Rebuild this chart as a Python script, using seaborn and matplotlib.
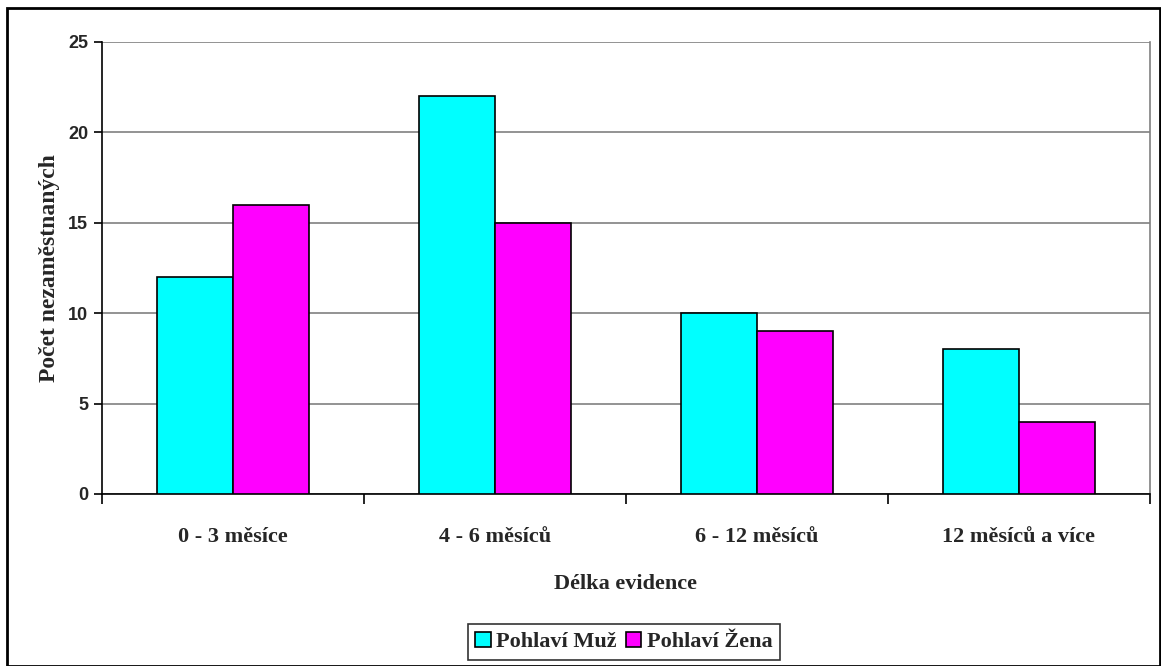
import matplotlib
matplotlib.use("Agg")
import matplotlib.pyplot as plt
import seaborn as sns
import pandas as pd
from matplotlib.patches import Rectangle

categories = ["0 - 3 měsíce", "4 - 6 měsíců", "6 - 12 měsíců", "12 měsíců a více"]
series_names = ["Pohlaví Muž", "Pohlaví Žena"]
muz = [12, 22, 10, 8]
zena = [16, 15, 9, 4]
y_ticks = [0, 5, 10, 15, 20, 25]

df = pd.DataFrame({
    "cat": categories * 2,
    "val": muz + zena,
    "ser": [series_names[0]] * 4 + [series_names[1]] * 4,
})

sns.set_style("white")
serif = ["Liberation Serif", "DejaVu Serif"]
sans = ["Liberation Sans", "DejaVu Sans"]

fig = plt.figure(figsize=(11.61, 6.66), dpi=100)
ax = fig.add_axes([102/1161, 1-494/666, (1150-102)/1161, (494-42)/666])

sns.barplot(data=df, x="cat", y="val", hue="ser", order=categories,
            hue_order=series_names, palette=["#00FFFF", "#FF00FF"],
            edgecolor="black", linewidth=1.2, width=0.577, gap=0,
            saturation=1, ax=ax, zorder=3)

ax.set_ylim(0, 25)
ax.set_xlim(-0.5, 3.5)
ax.set_yticks(y_ticks)
ax.set_yticklabels([str(t) for t in y_ticks], fontfamily=sans, fontweight="bold", fontsize=13)
ax.yaxis.grid(True, color="#808080", linewidth=1.2, zorder=0)
ax.set_axisbelow(True)
ax.tick_params(axis="y", direction="out", length=6, width=1.2, color="black", left=True, pad=4)

ax.set_xticks(range(len(categories)))
ax.set_xticklabels(categories, fontfamily=serif, fontweight="bold", fontsize=16)
ax.tick_params(axis="x", which="major", length=0, pad=24)
ax.set_xticks([-0.5, 0.5, 1.5, 2.5, 3.5], minor=True)
ax.tick_params(axis="x", which="minor", direction="out", length=7, width=1.2, color="black", bottom=True)

for s in ["left", "bottom"]:
    ax.spines[s].set_color("black")
    ax.spines[s].set_linewidth(1.2)
ax.spines["top"].set_visible(False)
ax.spines["right"].set_color("#808080")
ax.spines["right"].set_linewidth(1.2)

ax.set_xlabel("Délka evidence", fontfamily=serif, fontweight="bold", fontsize=16, labelpad=19)
ax.set_ylabel("Počet nezaměstnaných", fontfamily=serif, fontweight="bold", fontsize=17, labelpad=6)

ax.legend_.remove()
handles, labels = ax.get_legend_handles_labels()
leg = fig.legend(handles, labels, loc="center", bbox_to_anchor=(624/1161, 1-642/666),
                 ncol=2, frameon=True, fancybox=False, handlelength=0.7, handleheight=0.7,
                 handletextpad=0.25, columnspacing=0.4, borderpad=0.35, borderaxespad=0,
                 prop={"family": serif, "weight": "bold", "size": 16})
leg.get_frame().set_edgecolor("black")
leg.get_frame().set_linewidth(1.2)

fig.patches.append(Rectangle((7/1161, 0.5/666), (1160-7)/1161, (665.5-7.5)/666, transform=fig.transFigure,
                             fill=False, edgecolor="black", linewidth=2))

fig.savefig("out.png", dpi=100)
